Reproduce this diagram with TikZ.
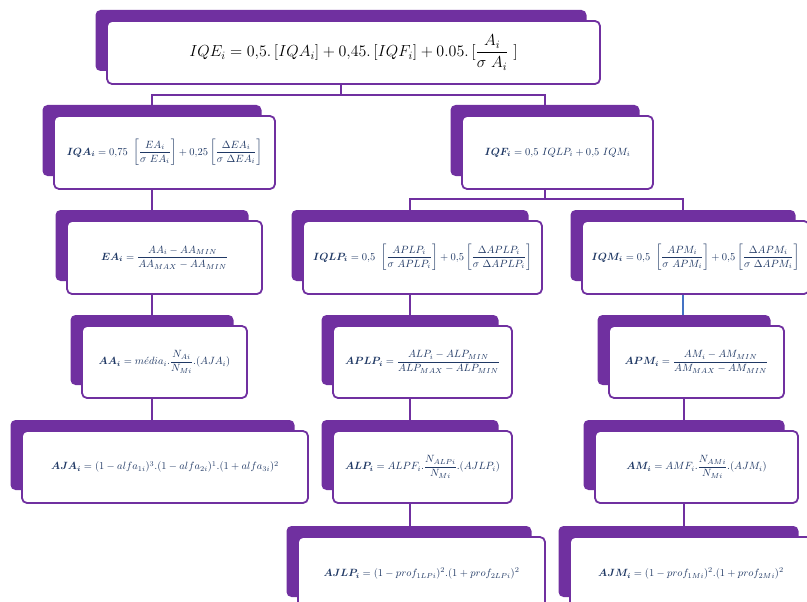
\documentclass[tikz,border=0pt]{standalone}
\usepackage{fix-cm}
\usepackage{amsmath}
\usetikzlibrary{backgrounds}
\definecolor{purp}{HTML}{7030A0}
\definecolor{navy}{HTML}{1F3864}
\definecolor{lnblue}{HTML}{4472C4}
\tikzset{
  backbox/.style={fill=purp, rounded corners=5pt, inner sep=0pt, draw=none},
  frontbox/.style={fill=white, draw=purp, line width=1.8pt, rounded corners=5pt,
    inner sep=0pt, font=\fontsize{10.5}{12}\selectfont, text=navy},
  topfont/.style={font=\fontsize{16}{19}\selectfont, text=black},
  conn/.style={draw=purp, line width=1.8pt},
  connblue/.style={draw=lnblue, line width=1.8pt},
}
% #1 extra style, #2 name, #3 x1, #4 y1, #5 x2, #6 y2 (white box, px), #7 text
\newcommand\unitbox[7][]{%
  \pgfmathsetmacro\bxX{(#3+#5)/2}%
  \pgfmathsetmacro\bxY{(#4+#6)/2}%
  \pgfmathsetmacro\bxW{#5-#3}%
  \pgfmathsetmacro\bxH{#6-#4}%
  \pgfmathsetmacro\bxSW{#5-#3-2}%
  \pgfmathsetmacro\bxSH{#6-#4-2}%
  \node[backbox, minimum width=\bxSW pt, minimum height=\bxSH pt] (#2) at (\bxX-12.5,\bxY-12) {};
  \node[frontbox, minimum width=\bxW pt, minimum height=\bxH pt, #1] (#2t) at (\bxX,\bxY) {#7};
}
\begin{document}
\begin{tikzpicture}[x=1pt,y=-1pt]
\useasboundingbox (0,0) rectangle (807,602);

\unitbox[topfont]{top}{107}{21}{600}{84}{$IQE_i = 0{,}5.\,[IQA_i] + 0{,}45.\,[IQF_i] + 0.05.\,[\dfrac{A_i}{\sigma\ A_i}\ ]$}

\unitbox{iqa}{54}{116}{275}{189}{$\boldsymbol{IQA_i} = 0{,}75\ \left[\dfrac{EA_i}{\sigma\ EA_i}\right] + 0{,}25\left[\dfrac{\Delta EA_i}{\sigma\ \Delta EA_i}\right]$}
\unitbox{iqf}{462}{116}{653}{189}{$\boldsymbol{IQF_i} = 0{,}5\ IQLP_i + 0{,}5\ IQM_i$}

\unitbox{ea}{67}{221}{262}{294}{$\boldsymbol{EA_i} = \dfrac{AA_i - AA_{MIN}}{AA_{MAX} - AA_{MIN}}$}
\unitbox{iqlp}{303}{221}{542}{294}{$\boldsymbol{IQLP_i} = 0{,}5\ \left[\dfrac{APLP_i}{\sigma\ APLP_i}\right] + 0{,}5\left[\dfrac{\Delta APLP_i}{\sigma\ \Delta APLP_i}\right]$}
\unitbox{iqm}{582}{221}{809}{294}{$\boldsymbol{IQM_i} = 0{,}5\ \left[\dfrac{APM_i}{\sigma\ APM_i}\right] + 0{,}5\left[\dfrac{\Delta APM_i}{\sigma\ \Delta APM_i}\right]$}

\unitbox{aa}{82}{326}{247}{398}{$\boldsymbol{AA_i} = m\acute{e}dia_i.\dfrac{N_{Ai}}{N_{Mi}}.(AJA_i)$}
\unitbox{aplp}{333}{326}{512}{398}{$\boldsymbol{APLP_i} = \dfrac{ALP_i - ALP_{MIN}}{ALP_{MAX} - ALP_{MIN}}$}
\unitbox{apm}{609}{326}{784}{398}{$\boldsymbol{APM_i} = \dfrac{AM_i - AM_{MIN}}{AM_{MAX} - AM_{MIN}}$}

\unitbox{aja}{22}{431}{308}{503}{$\boldsymbol{AJA_i} = (1 - alfa_{1i})^3.(1 - alfa_{2i})^1.(1 + alfa_{3i})^2$}
\unitbox{alp}{333}{431}{512}{503}{$\boldsymbol{ALP_i} = ALPF_i.\dfrac{N_{ALPi}}{N_{Mi}}.(AJLP_i)$}
\unitbox{am}{595}{431}{798}{503}{$\boldsymbol{AM_i} = AMF_i.\dfrac{N_{AMi}}{N_{Mi}}.(AJM_i)$}

\unitbox{ajlp}{298}{537}{545}{610}{$\boldsymbol{AJLP_i} = (1 - prof_{1LPi})^2.(1 + prof_{2LPi})^2$}
\unitbox{ajm}{570}{537}{812}{610}{$\boldsymbol{AJM_i} = (1 - prof_{1Mi})^2.(1 + prof_{2Mi})^2$}

\begin{scope}[on background layer]
  \draw[conn] (top.south) -- ++(0,24) coordinate (j1);
  \draw[conn] (j1) -| (iqa.north);
  \draw[conn] (j1) -| (iqf.north);
  \draw[conn] (iqf.south) -- ++(0,23) coordinate (j2);
  \draw[conn] (j2) -| (iqlp.north);
  \draw[conn] (j2) -| (iqm.north);
  \draw[conn] (iqa.south) -- (iqa.south |- ea.north);
  \draw[conn] (ea.south) -- (ea.south |- aa.north);
  \draw[conn] (aa.south) -- (aa.south |- aja.north);
  \draw[conn] (iqlp.south) -- (iqlp.south |- aplp.north);
  \draw[conn] (aplp.south) -- (aplp.south |- alp.north);
  \draw[conn] (alp.south) -- (alp.south |- ajlp.north);
  \draw[connblue] (iqm.south) -- (iqm.south |- apm.north);
  \draw[conn] (apm.south) -- (apm.south |- am.north);
  \draw[conn] (am.south) -- (am.south |- ajm.north);
\end{scope}
\end{tikzpicture}
\end{document}
